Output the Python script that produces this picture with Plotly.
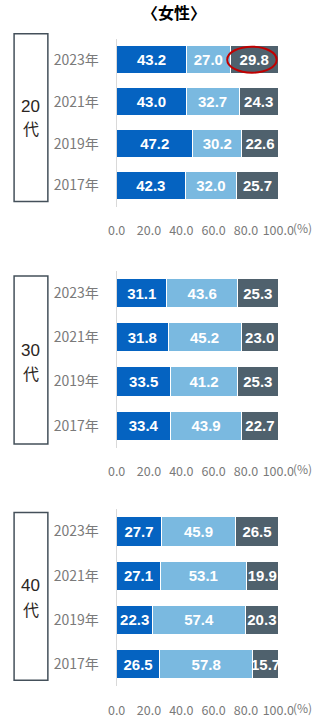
import plotly.graph_objects as go

# Survey years (bottom to top) and age groups
years = ["2017年", "2019年", "2021年", "2023年"]
groups = ["20", "30", "40"]

# Share (%) per answer category, one list per age group, ordered like `years`
s1 = {"20": [42.3, 47.2, 43.0, 43.2],
      "30": [33.4, 33.5, 31.8, 31.1],
      "40": [26.5, 22.3, 27.1, 27.7]}
s2 = {"20": [32.0, 30.2, 32.7, 27.0],
      "30": [43.9, 41.2, 45.2, 43.6],
      "40": [57.8, 57.4, 53.1, 45.9]}
s3 = {"20": [25.7, 22.6, 24.3, 29.8],
      "30": [22.7, 25.3, 23.0, 25.3],
      "40": [15.7, 20.3, 19.9, 26.5]}

xticks = [0, 20, 40, 60, 80, 100]
xticklabels = ["0.0", "20.0", "40.0", "60.0", "80.0", "100.0"]

colors = ["#0563C1", "#7AB9E0", "#4F616D"]

W, H = 335, 719
# plot-area vertical extents (px from top) for each panel
panel_px = [(39, 208), (273, 451), (513, 691)]
# age-group frame extents and the two text line centres (px from top)
box_px = [(34, 203), (278, 447), (516, 685)]
box_text_px = [(107, 129), (353, 376), (590, 613)]
x_dom = [116.3 / W, 291.0 / W]

fig = go.Figure()
label_font = dict(family="Liberation Sans, Arial", size=15, color="white")
tick_font = dict(family="Noto Sans CJK JP", size=12.5, color="#7a7a7a")
num_font = dict(family="Liberation Sans, Arial", size=17, color="#2b2522")
kanji_font = dict(family="Noto Sans CJK JP", size=16, color="#2b2522")

for i, g in enumerate(groups):
    xa = "x" if i == 0 else f"x{i + 1}"
    ya = "y" if i == 0 else f"y{i + 1}"
    for series, col in zip((s1, s2, s3), colors):
        fig.add_trace(go.Bar(
            y=years, x=series[g], orientation="h",
            marker=dict(color=col, line=dict(color="white", width=1)),
            texttemplate="<b>%{x:.1f}</b>", textposition="inside",
            insidetextanchor="middle", textangle=0, constraintext="none",
            textfont=label_font, xaxis=xa, yaxis=ya,
            showlegend=False, hoverinfo="skip",
        ))
    top, bot = panel_px[i]
    dom = [1 - bot / H, 1 - top / H]
    xkey = "xaxis" if i == 0 else f"xaxis{i + 1}"
    ykey = "yaxis" if i == 0 else f"yaxis{i + 1}"
    fig.update_layout(**{
        xkey: dict(domain=x_dom, anchor=ya, range=[0, 100], tickvals=xticks,
                   ticktext=xticklabels, showgrid=False, zeroline=False,
                   showline=False, tickfont=tick_font, fixedrange=True,
                   ticklabelstandoff=15),
        ykey: dict(domain=dom, anchor=xa, categoryorder="array",
                   categoryarray=years, showline=True, linecolor="#d9d9d9",
                   linewidth=1, showgrid=False, tickfont=dict(
                       family="Noto Sans CJK JP", size=14, color="#7a7a7a"),
                   ticklabelstandoff=14, fixedrange=True),
    })
    # "(%)" unit next to the last x tick label
    fig.add_annotation(xref="paper", yref="paper", x=305 / W,
                       y=1 - (bot + 21) / H, text="(%)", showarrow=False,
                       xanchor="left", yanchor="middle",
                       font=dict(family="Noto Sans CJK JP", size=12,
                                 color="#7a7a7a"))
    # age-group frame at the left
    b0, b1 = box_px[i]
    fig.add_shape(type="rect", xref="paper", yref="paper",
                  x0=5.5 / W, x1=42 / W, y0=1 - b1 / H, y1=1 - b0 / H,
                  line=dict(color="#44505a", width=1.5))
    t0, t1 = box_text_px[i]
    fig.add_annotation(xref="paper", yref="paper", x=23.5 / W,
                       y=1 - t0 / H, text=g, showarrow=False, borderpad=0,
                       xanchor="center", yanchor="middle", font=num_font)
    fig.add_annotation(xref="paper", yref="paper", x=23.5 / W,
                       y=1 - t1 / H, text="代", showarrow=False, borderpad=0,
                       xanchor="center", yanchor="middle", font=kanji_font)

# highlight the newest 20代 value
hx0 = s1["20"][3] + s2["20"][3]
hx1 = hx0 + s3["20"][3]
fig.add_shape(type="circle", xref="x", yref="y", x0=hx0 - 1.8, x1=hx1 - 1.0,
              y0=3 - 0.31, y1=3 + 0.31, line=dict(color="#C00000", width=2))

fig.add_annotation(xref="paper", yref="paper", x=178 / W, y=1 - 12 / H,
                   text="<b>〈女性〉</b>", showarrow=False,
                   xanchor="center", yanchor="middle",
                   font=dict(family="Noto Sans CJK JP", size=16, color="black"))

fig.update_layout(width=W, height=H, margin=dict(l=0, r=0, t=0, b=0),
                  barmode="stack", bargap=0.34, plot_bgcolor="white",
                  paper_bgcolor="white")

fig.write_html("out.html", config={"displayModeBar": False})
